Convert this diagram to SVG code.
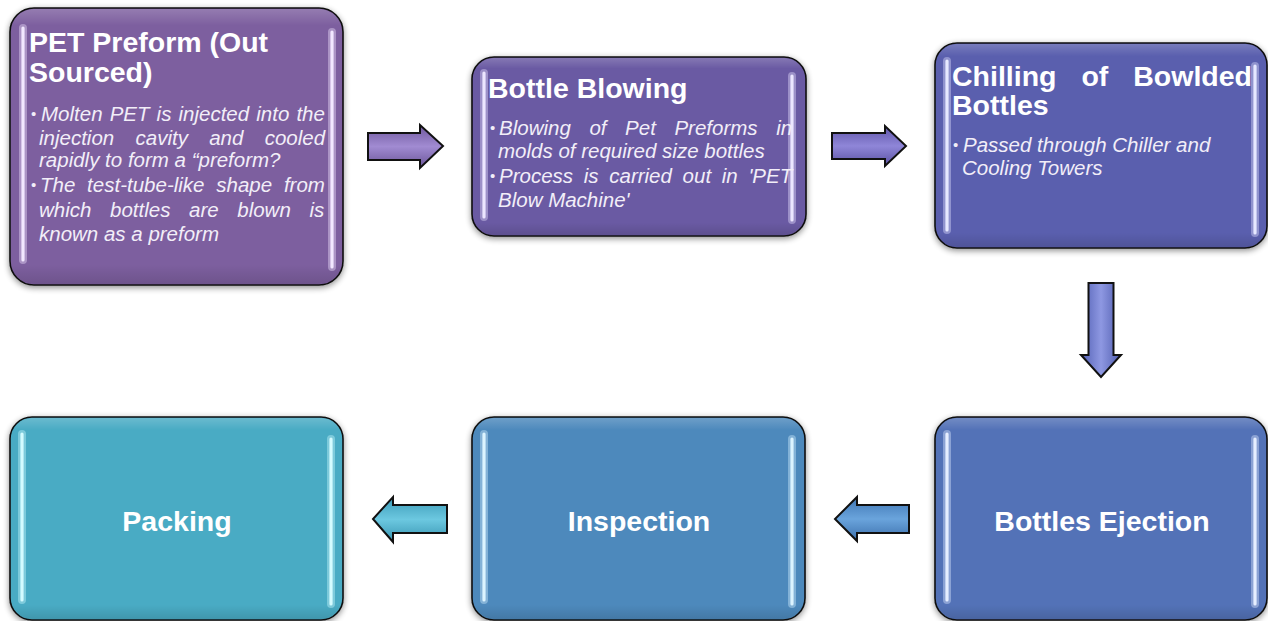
<svg xmlns="http://www.w3.org/2000/svg" width="1268" height="621" viewBox="0 0 1268 621">
<defs>
<style>
.box{stroke:#111;stroke-width:1.6;filter:url(#sh)}
.title{font-family:"Liberation Sans",Arial,sans-serif;font-weight:bold;font-size:28.5px;fill:#fff}
.lbl{font-family:"Liberation Sans",Arial,sans-serif;font-weight:bold;font-size:28.5px;fill:#fff;text-anchor:middle}
.bul{font-family:"Liberation Sans",Arial,sans-serif;font-style:italic;font-size:20.5px;fill:#f2eef8}
.dot{font-family:"Liberation Sans",Arial,sans-serif;font-size:15px;fill:#f2eef8}
.bar{stroke-width:3.2;stroke-linecap:round;fill:none}
.halo{stroke-width:8;stroke-linecap:round;fill:none;stroke-opacity:0.4}
.arr{stroke:#111;stroke-width:2;stroke-linejoin:miter}
.gloss{fill:url(#gl);stroke:none}
</style>
<filter id="sh" x="-10%" y="-10%" width="120%" height="125%">
<feGaussianBlur in="SourceAlpha" stdDeviation="3"/>
<feOffset dx="0" dy="2" result="b"/>
<feComponentTransfer><feFuncA type="linear" slope="0.45"/></feComponentTransfer>
<feMerge><feMergeNode/><feMergeNode in="SourceGraphic"/></feMerge>
</filter>
<linearGradient id="gl" x1="0" y1="0" x2="0" y2="1">
<stop offset="0" stop-color="#fff" stop-opacity="0.18"/>
<stop offset="0.06" stop-color="#fff" stop-opacity="0"/>
<stop offset="0.93" stop-color="#000" stop-opacity="0"/>
<stop offset="1" stop-color="#000" stop-opacity="0.12"/>
</linearGradient>
<linearGradient id="ga1" x1="0" y1="0" x2="0" y2="1">
<stop offset="0" stop-color="#6e579c"/><stop offset="0.5" stop-color="#a18bd2"/><stop offset="1" stop-color="#6a5598"/>
</linearGradient>
<linearGradient id="ga2" x1="0" y1="0" x2="0" y2="1">
<stop offset="0" stop-color="#5f55a8"/><stop offset="0.5" stop-color="#8f86d8"/><stop offset="1" stop-color="#5b52a2"/>
</linearGradient>
<linearGradient id="ga3" x1="0" y1="0" x2="1" y2="0">
<stop offset="0" stop-color="#5260b4"/><stop offset="0.5" stop-color="#8e98e2"/><stop offset="1" stop-color="#4f5cae"/>
</linearGradient>
<linearGradient id="ga4" x1="0" y1="0" x2="0" y2="1">
<stop offset="0" stop-color="#3f76b4"/><stop offset="0.5" stop-color="#6aa4dc"/><stop offset="1" stop-color="#3c70ac"/>
</linearGradient>
<linearGradient id="ga5" x1="0" y1="0" x2="0" y2="1">
<stop offset="0" stop-color="#3c9bb8"/><stop offset="0.5" stop-color="#6cc8e0"/><stop offset="1" stop-color="#3895b2"/>
</linearGradient>
</defs>
<rect width="1268" height="621" fill="#fff"/>

<g id="connectors">
<path class="arr" fill="url(#ga1)" d="M368,133 L420,133 L420,125 L443,146 L420,168 L420,160 L368,160 Z"/>
<path class="arr" fill="url(#ga2)" d="M832,133 L885,133 L885,126 L906,146 L885,166 L885,159 L832,159 Z"/>
<path class="arr" fill="url(#ga3)" d="M1088.5,283 L1113.5,283 L1113.5,355 L1121,355 L1101,377 L1081,355 L1088.5,355 Z"/>
<path class="arr" fill="url(#ga4)" d="M909,505 L857,505 L857,497 L835,519 L857,541 L857,533 L909,533 Z"/>
<path class="arr" fill="url(#ga5)" d="M447,505 L393,505 L393,497 L373,519 L393,542 L393,533 L447,533 Z"/>
</g>

<g id="node-pet-preform">
<rect class="box" x="10" y="8" width="333" height="277" rx="24" fill="#7d5f9f"/>
<rect class="gloss" x="11" y="9" width="331" height="275" rx="23"/>
<path class="halo" d="M23,28 V260 M332,32 V267" stroke="#f0e4ff"/>
<path class="bar" d="M23,28 V260 M332,32 V267" stroke="#f2e8ff"/>
<text class="title" x="29" y="52">PET Preform (Out</text>
<text class="title" x="29" y="82">Sourced)</text>
<text class="dot" x="31" y="119">•</text>
<text class="bul" x="41" y="121" word-spacing="1.4">Molten PET is injected into the</text>
<text class="bul" x="39" y="145" word-spacing="15.6">injection cavity and cooled</text>
<text class="bul" x="39" y="167">rapidly to form a “preform?</text>
<text class="dot" x="31" y="190">•</text>
<text class="bul" x="40" y="192" word-spacing="6.1">The test-tube-like shape from</text>
<text class="bul" x="39" y="217" word-spacing="12.9">which bottles are blown is</text>
<text class="bul" x="39" y="241">known as a preform</text>
</g>

<g id="node-bottle-blowing">
<rect class="box" x="472" y="57" width="334" height="179" rx="22" fill="#6b5aa3"/>
<rect class="gloss" x="473" y="58" width="332" height="177" rx="21"/>
<path class="halo" d="M484,73 V217 M792,76 V220" stroke="#e8e0ff"/>
<path class="bar" d="M484,73 V217 M792,76 V220" stroke="#ece6ff"/>
<text class="title" x="488" y="98">Bottle Blowing</text>
<text class="dot" x="490" y="133">•</text>
<text class="bul" x="499" y="135" word-spacing="12.9">Blowing of Pet Preforms in</text>
<text class="bul" x="498" y="158">molds of required size bottles</text>
<text class="dot" x="490" y="181">•</text>
<text class="bul" x="499" y="183" word-spacing="5">Process is carried out in 'PET</text>
<text class="bul" x="498" y="207">Blow Machine'</text>
</g>

<g id="node-chilling">
<rect class="box" x="935" y="43" width="332" height="205" rx="22" fill="#5a5eae"/>
<rect class="gloss" x="936" y="44" width="330" height="203" rx="21"/>
<path class="halo" d="M947,61 V230 M1255,66 V233" stroke="#e0e2ff"/>
<path class="bar" d="M947,61 V230 M1255,66 V233" stroke="#e6e8ff"/>
<text class="title" x="952" y="86" word-spacing="17">Chilling of Bowlded</text>
<text class="title" x="952" y="115">Bottles</text>
<text class="dot" x="953" y="150">•</text>
<text class="bul" x="963" y="152">Passed through Chiller and</text>
<text class="bul" x="962" y="175">Cooling Towers</text>
</g>

<g id="node-bottles-ejection">
<rect class="box" x="935" y="417" width="332" height="203" rx="22" fill="#5372b7"/>
<rect class="gloss" x="936" y="418" width="330" height="201" rx="21"/>
<path class="halo" d="M947,434 V600 M1255,439 V604" stroke="#e0eaff"/>
<path class="bar" d="M947,434 V600 M1255,439 V604" stroke="#e6eeff"/>
<text class="lbl" x="1102" y="531">Bottles Ejection</text>
</g>

<g id="node-inspection">
<rect class="box" x="472" y="417" width="333" height="203" rx="22" fill="#4d89bc"/>
<rect class="gloss" x="473" y="418" width="331" height="201" rx="21"/>
<path class="halo" d="M484,434 V600 M792,439 V604" stroke="#d4f0ff"/>
<path class="bar" d="M484,434 V600 M792,439 V604" stroke="#dcf4ff"/>
<text class="lbl" x="639" y="531">Inspection</text>
</g>

<g id="node-packing">
<rect class="box" x="10" y="417" width="333" height="203" rx="22" fill="#4aabc4"/>
<rect class="gloss" x="11" y="418" width="331" height="201" rx="21"/>
<path class="halo" d="M22,434 V600 M331,439 V604" stroke="#ccfaff"/>
<path class="bar" d="M22,434 V600 M331,439 V604" stroke="#d4fbff"/>
<text class="lbl" x="177" y="531">Packing</text>
</g>
</svg>
